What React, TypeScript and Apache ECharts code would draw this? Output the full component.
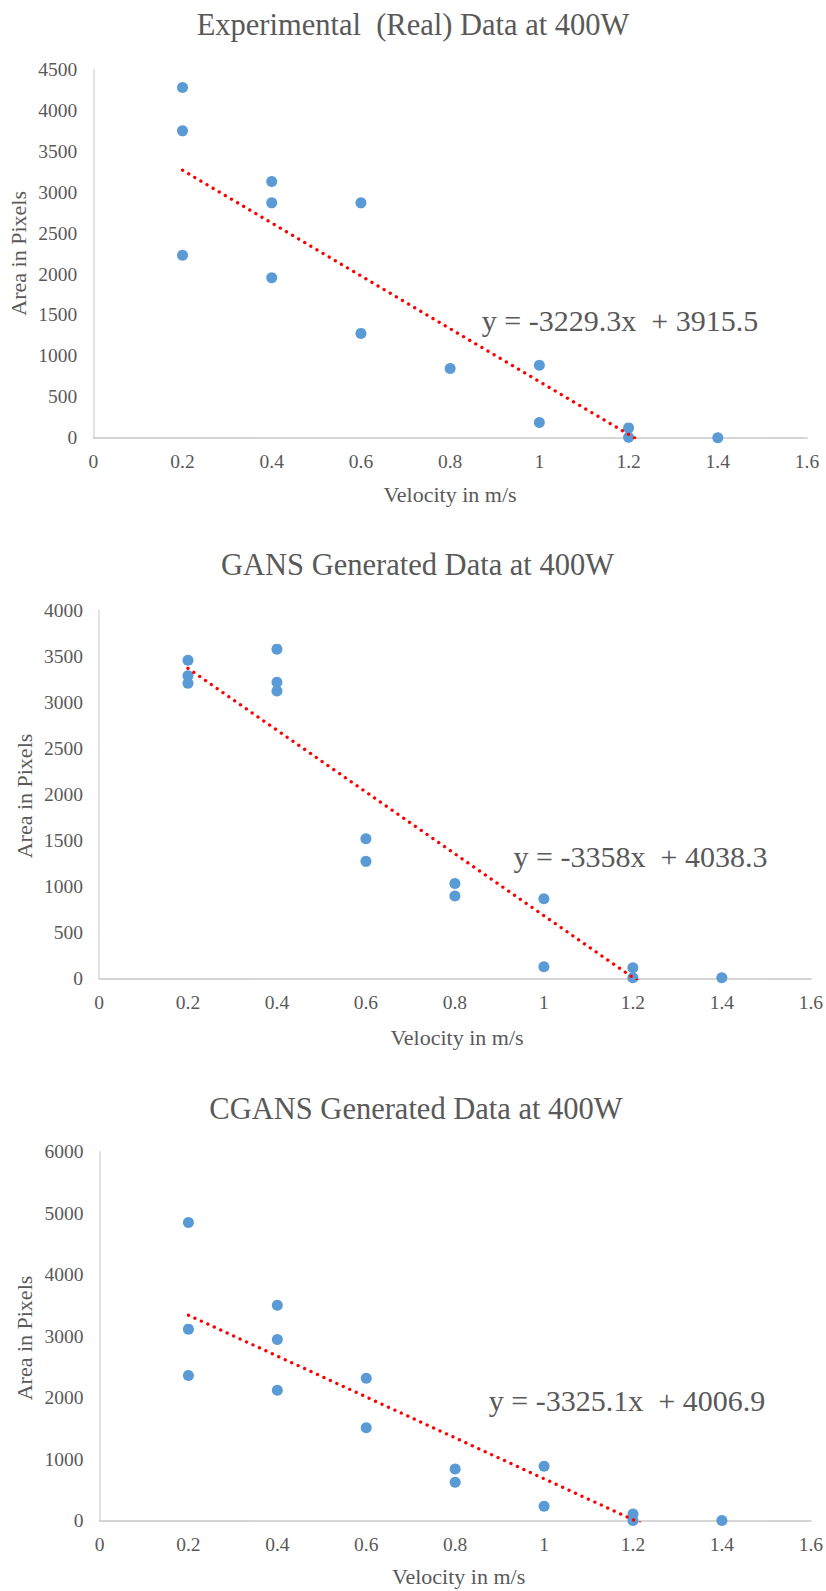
import React, { useEffect, useRef } from "react";
import * as echarts from "echarts";

// ---- Data ----
const TITLES = [
  "Experimental\u00a0 (Real) Data at 400W",
  "GANS Generated Data at 400W",
  "CGANS Generated Data at 400W",
];
const X_NAME = "Velocity in m/s";
const Y_NAME = "Area in Pixels";

const VELOCITY_REAL = [0.2, 0.2, 0.2, 0.4, 0.4, 0.4, 0.6, 0.6, 0.8, 1.0, 1.0, 1.2, 1.2, 1.4];
const AREA_REAL = [4280, 3750, 2230, 3130, 2870, 1955, 2870, 1275, 845, 885, 185, 120, 5, 0];

const VELOCITY_GANS = [0.2, 0.2, 0.2, 0.4, 0.4, 0.4, 0.6, 0.6, 0.8, 0.8, 1.0, 1.0, 1.2, 1.2, 1.4];
const AREA_GANS = [3455, 3285, 3205, 3575, 3215, 3120, 1515, 1270, 1030, 895, 865, 125, 115, 5, 5];

const VELOCITY_CGANS = [0.2, 0.2, 0.2, 0.4, 0.4, 0.4, 0.6, 0.6, 0.8, 0.8, 1.0, 1.0, 1.2, 1.2, 1.4];
const AREA_CGANS = [4850, 3115, 2360, 3505, 2945, 2120, 2315, 1510, 840, 625, 885, 235, 110, 5, 5];

const SLOPES = [-3229.3, -3358, -3325.1];
const INTERCEPTS = [3915.5, 4038.3, 4006.9];
const EQUATIONS = [
  "y = -3229.3x\u00a0 + 3915.5",
  "y = -3358x\u00a0 + 4038.3",
  "y = -3325.1x\u00a0 + 4006.9",
];

const X_TICKS = { min: 0, max: 1.6, interval: 0.2 };
const Y_MAX = [4500, 4000, 6000];
const Y_INTERVAL = [500, 500, 1000];

// ---- Layout (pixels) ----
const GRIDS = [
  { left: 93.3, top: 69.5, width: 713.7, height: 368.2 },
  { left: 99, top: 610, width: 715, height: 368.3 },
  { left: 99.5, top: 1151.7, width: 715.5, height: 369 },
];
const TITLE_POS = [
  [413, 25],
  [417.5, 565],
  [416, 1109],
];
const XNAME_POS = [
  [450, 494],
  [457, 1037],
  [458.6, 1576],
];
const YNAME_POS = [
  [18.5, 253.3],
  [24.5, 796],
  [24.5, 1338],
];
const EQ_POS = [
  [620, 320],
  [640.5, 856.5],
  [627, 1400],
];

const FONT = "Liberation Serif";
const TEXT_COLOR = "#595959";

export default function App() {
  const ref = useRef<HTMLDivElement>(null);

  useEffect(() => {
    document.body.style.margin = "0";
    if (!ref.current) return;
    const chart = echarts.init(ref.current, undefined, { renderer: "svg" });

    const datasets = [
      [VELOCITY_REAL, AREA_REAL],
      [VELOCITY_GANS, AREA_GANS],
      [VELOCITY_CGANS, AREA_CGANS],
    ];

    const grid = GRIDS.map((g) => ({ ...g, containLabel: false }));

    const fmt = (v: number) => String(Math.round(v * 1000) / 1000);

    const labelStyle = {
      color: TEXT_COLOR,
      fontFamily: FONT,
      fontSize: 19.5,
      fontWeight: "normal",
      fontStyle: "normal",
      formatter: fmt,
    };

    const xAxis = GRIDS.map((_, i) => ({
      type: "value",
      gridIndex: i,
      min: X_TICKS.min,
      max: X_TICKS.max,
      interval: X_TICKS.interval,
      axisLine: { show: true, onZero: false, lineStyle: { color: "#c8c8c8", width: 1.6 } },
      axisTick: { show: false },
      splitLine: { show: false },
      axisLabel: { ...labelStyle, margin: 14 },
    }));

    const yAxis = GRIDS.map((_, i) => ({
      type: "value",
      gridIndex: i,
      min: 0,
      max: Y_MAX[i],
      interval: Y_INTERVAL[i],
      axisLine: { show: true, lineStyle: { color: "#d9d9d9", width: 1.5 } },
      axisTick: { show: false },
      splitLine: { show: false },
      axisLabel: { ...labelStyle, margin: 16 },
    }));

    const series: any[] = [];
    datasets.forEach(([xs, ys], i) => {
      series.push({
        type: "scatter",
        xAxisIndex: i,
        yAxisIndex: i,
        symbol: "circle",
        symbolSize: 11,
        itemStyle: { color: "#5b9bd5", opacity: 1 },
        data: xs.map((x, k) => [x, ys[k]]),
        z: 2,
      });
      const x0 = Math.min(...xs);
      const x1 = Math.max(...xs);
      series.push({
        type: "line",
        xAxisIndex: i,
        yAxisIndex: i,
        symbol: "none",
        silent: true,
        clip: true,
        lineStyle: {
          color: "#ff0000",
          width: 3.3,
          type: [0.1, 7],
          cap: "round",
        },
        data: [
          [x0, SLOPES[i] * x0 + INTERCEPTS[i]],
          [x1, SLOPES[i] * x1 + INTERCEPTS[i]],
        ],
        z: 3,
      });
    });

    const txt = (text: string, x: number, y: number, size: number, rot = 0) => ({
      type: "text",
      x,
      y,
      rotation: rot,
      style: {
        text,
        fill: TEXT_COLOR,
        font: `normal normal ${size}px "${FONT}", "Times New Roman", serif`,
        align: "center",
        verticalAlign: "middle",
      },
    });

    const graphic: any[] = [];
    for (let i = 0; i < 3; i++) {
      graphic.push(txt(TITLES[i], TITLE_POS[i][0], TITLE_POS[i][1], 30.5));
      graphic.push(txt(X_NAME, XNAME_POS[i][0], XNAME_POS[i][1], 22));
      graphic.push(txt(Y_NAME, YNAME_POS[i][0], YNAME_POS[i][1], 22, Math.PI / 2));
      graphic.push(txt(EQUATIONS[i], EQ_POS[i][0], EQ_POS[i][1], 30));
    }

    chart.setOption({
      animation: false,
      backgroundColor: "#ffffff",
      textStyle: { fontFamily: FONT },
      grid,
      xAxis,
      yAxis,
      series,
      graphic,
    });

    return () => chart.dispose();
  }, []);

  return <div ref={ref} style={{ width: 826, height: 1591 }} />;
}
